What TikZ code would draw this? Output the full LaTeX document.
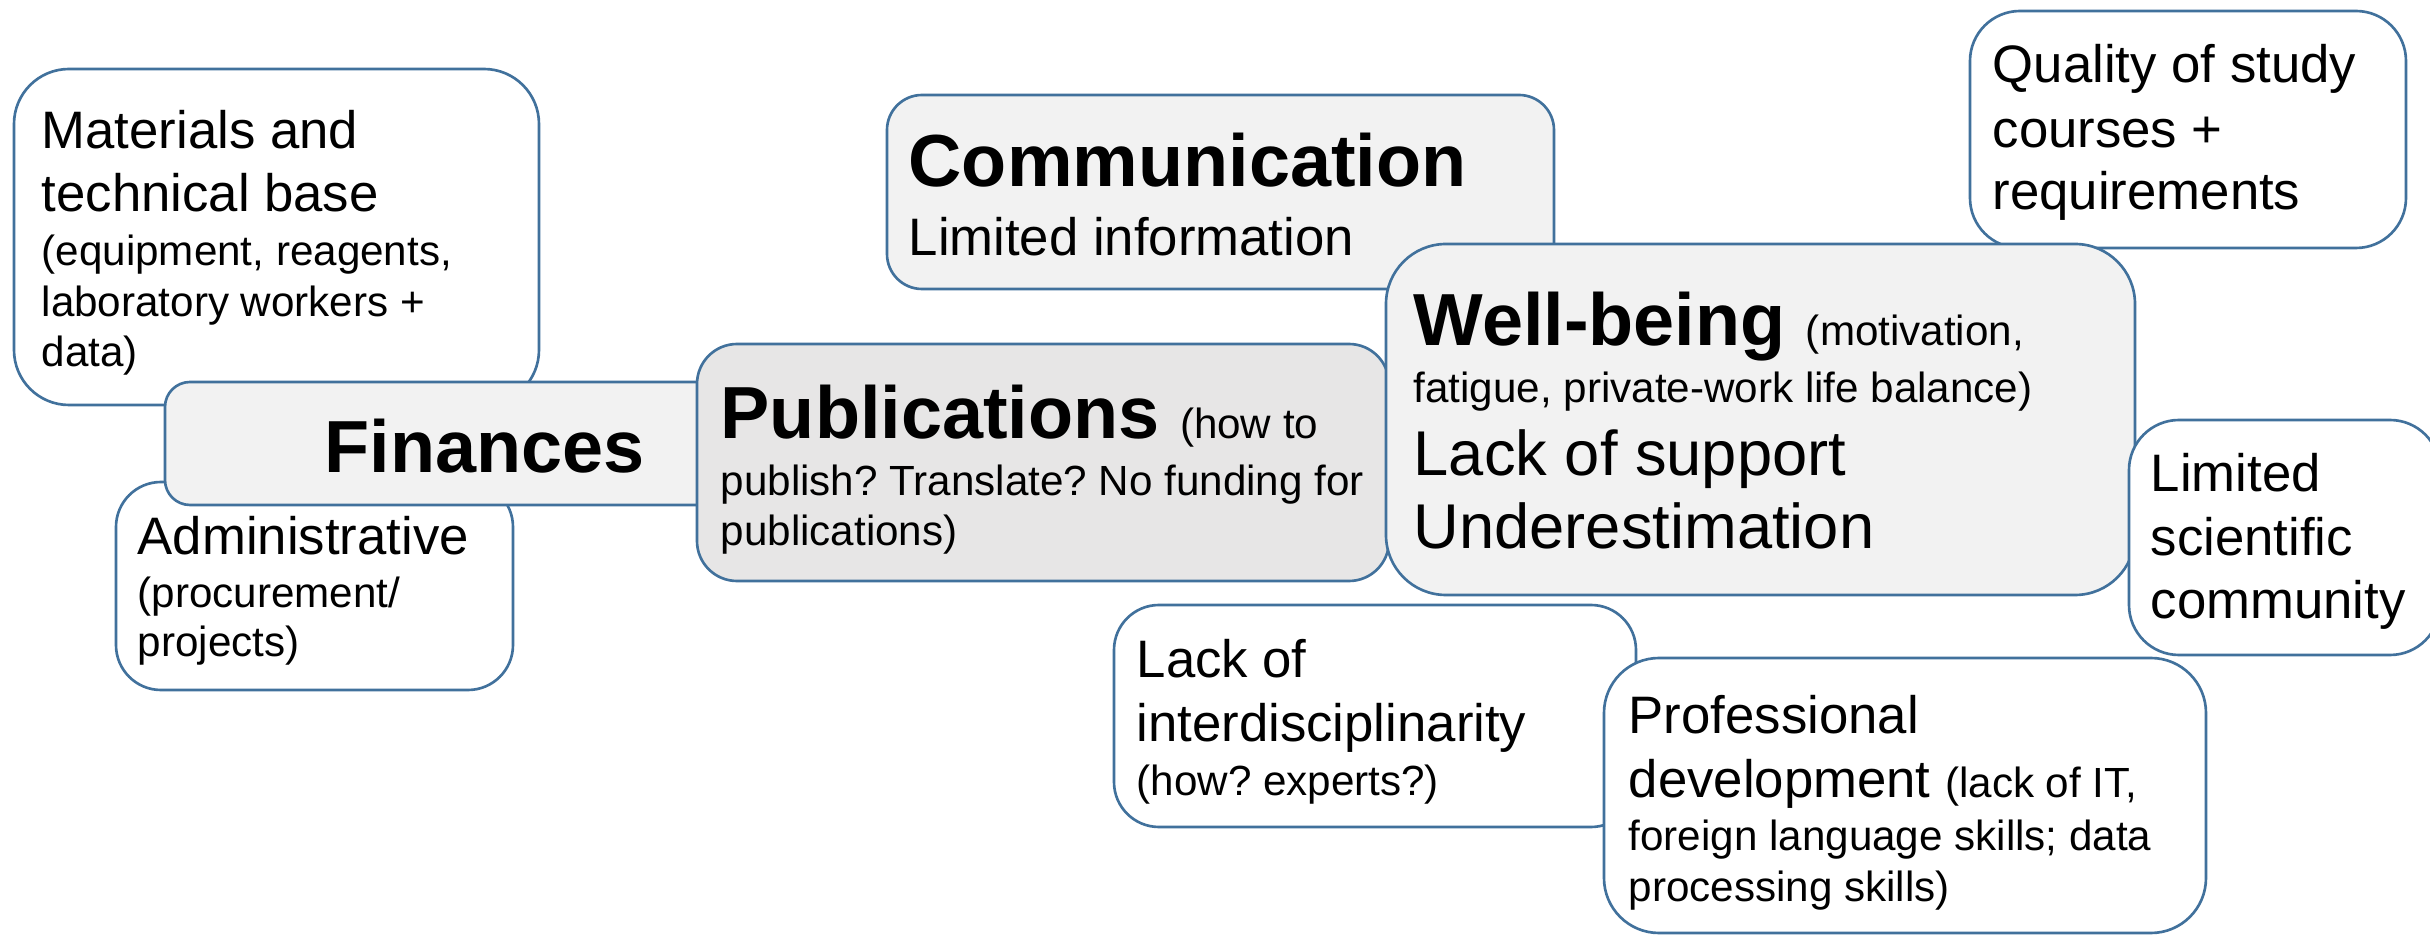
\documentclass[tikz,border=0pt]{standalone}
\usepackage{fontspec}
\setmainfont{Liberation Sans}
\frenchspacing
\definecolor{edgeblue}{HTML}{41719C}
\definecolor{lightfill}{HTML}{F2F2F2}
\definecolor{pubfill}{HTML}{E7E6E6}
\tikzset{
  card/.style={draw=edgeblue, line width=0.75pt, fill=white, anchor=north west, inner sep=0pt, outer sep=0pt},
  txtL/.style={anchor=base west, inner sep=0pt, font=\fontsize{15}{18}\selectfont},
  txtS/.style={anchor=base west, inner sep=0pt, font=\fontsize{12}{14.4}\selectfont},
  txtM/.style={anchor=base west, inner sep=0pt, font=\fontsize{18}{21.6}\selectfont},
  txtB/.style={anchor=base west, inner sep=0pt, font=\fontsize{21}{25}\selectfont\bfseries},
}
\newcommand{\smallpart}[1]{{\fontsize{12}{14.4}\selectfont\mdseries #1}}
\begin{document}
\begin{tikzpicture}[x=0.1mm, y=-0.1mm]
\clip (0,0) rectangle (2430,935);
\fill[white] (0,0) rectangle (2430,935);

% boxes (back to front)
\node[card, rounded corners=5.5mm, minimum width=52.5mm, minimum height=33.6mm] (matbox) at (14,69) {};
\node[card, rounded corners=4.5mm, minimum width=39.7mm, minimum height=20.8mm] (admbox) at (116,482) {};
\node[card, fill=lightfill, rounded corners=2.5mm, minimum width=63.5mm, minimum height=12.3mm] (finbox) at (165,382) {};
\node[card, fill=lightfill, rounded corners=3.5mm, minimum width=66.7mm, minimum height=19.4mm] (combox) at (887,95) {};
\node[card, fill=pubfill, rounded corners=4mm, minimum width=69.2mm, minimum height=23.7mm] (pubbox) at (697,344) {};
\node[card, rounded corners=5mm, minimum width=43.6mm, minimum height=23.7mm] (qualbox) at (1970,11) {};
\node[card, fill=lightfill, rounded corners=6mm, minimum width=74.9mm, minimum height=35.1mm] (wellbox) at (1386,244) {};
\node[card, rounded corners=5mm, minimum width=31.1mm, minimum height=23.5mm] (limbox) at (2129,420) {};
\node[card, rounded corners=4.5mm, minimum width=52.2mm, minimum height=22.2mm] (lackbox) at (1114,605) {};
\node[card, rounded corners=5.5mm, minimum width=60.2mm, minimum height=27.5mm] (profbox) at (1604,658) {};

% Materials
\node[txtL] (mat1) at (41,149) {Materials and};
\node[txtL] (mat2) at (41,212) {technical base};
\node[txtS] (mat3) at (41,266) {(equipment, reagents,};
\node[txtS] (mat4) at (41,317) {laboratory workers +};
\node[txtS] (mat5) at (41,367) {data)};
% Finances
\node[txtB] (fin1) at (324,473) {Finances};
% Administrative
\node[txtL] (adm1) at (137,555) {Administrative};
\node[txtS] (adm2) at (137,608) {(procurement/};
\node[txtS] (adm3) at (137,657) {projects)};
% Communication
\node[txtB] (com1) at (908,187) {Communication};
\node[txtL] (com2) at (908,256) {Limited information};
% Publications
\node[txtB] (pub1) at (720,439) {Publications \smallpart{(how to}};
\node[txtS] (pub2) at (720,496) {publish? Translate? No funding for};
\node[txtS] (pub3) at (720,546) {publications)};
% Well-being
\node[txtB] (wel1) at (1413,346) {Well-being \smallpart{(motivation,}};
\node[txtS] (wel2) at (1413,403) {fatigue, private-work life balance)};
\node[txtM] (wel3) at (1413,476) {Lack of support};
\node[txtM] (wel4) at (1413,549) {Underestimation};
% Quality
\node[txtL] (qua1) at (1992,83) {Quality of study};
\node[txtL] (qua2) at (1992,148) {courses +};
\node[txtL] (qua3) at (1992,210) {requirements};
% Limited scientific community
\node[txtL] (lim1) at (2150,492) {Limited};
\node[txtL] (lim2) at (2150,556) {scientific};
\node[txtL] (lim3) at (2150,619) {community};
% Lack of interdisciplinarity
\node[txtL] (lac1) at (1136,678) {Lack of};
\node[txtL] (lac2) at (1136,742) {interdisciplinarity};
\node[txtS] (lac3) at (1136,795) {(how? experts?)};
% Professional development
\node[txtL] (pro1) at (1628,734) {Professional};
\node[txtL] (pro2) at (1628,798) {development \smallpart{(lack of IT,}};
\node[txtS] (pro3) at (1628,851) {foreign language skills; data};
\node[txtS] (pro4) at (1628,902) {processing skills)};
\end{tikzpicture}
\end{document}
